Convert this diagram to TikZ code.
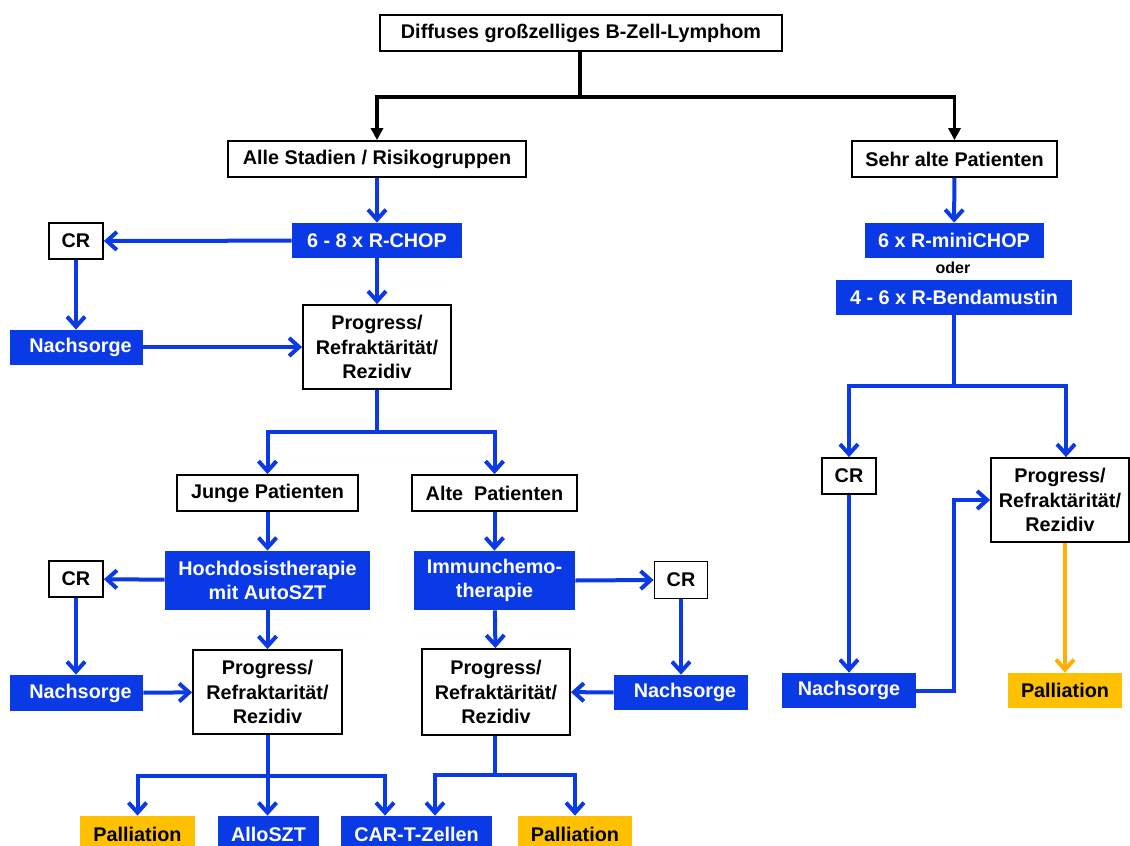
\documentclass[tikz,border=0pt]{standalone}
\usepackage{fontspec}
\setmainfont{Liberation Sans}
\usetikzlibrary{arrows.meta,calc}
\definecolor{dblue}{RGB}{10,58,230}
\definecolor{pgold}{RGB}{255,192,0}
\definecolor{pline}{RGB}{255,176,0}
\begin{document}
\begin{tikzpicture}[x=0.5pt,y=-0.5pt,
  font=\fontsize{9.9}{12.2}\selectfont\bfseries,
  wbox/.style={draw=black,line width=0.9pt,fill=white,text=black,align=center,inner sep=0pt},
  bbox/.style={fill=dblue,text=white,align=center,inner sep=0pt},
  obox/.style={fill=pgold,text=black,align=center,inner sep=0pt},
  barr/.style={draw=dblue,line width=2pt,-{Straight Barb[length=5pt,width=9pt]}},
  bline/.style={draw=dblue,line width=2pt},
  oarr/.style={draw=pline,line width=2pt,-{Straight Barb[length=5pt,width=9pt]}},
  karr/.style={draw=black,line width=1.6pt,-{Triangle[length=6pt,width=6pt]}},
  kline/.style={draw=black,line width=1.6pt}]
\useasboundingbox (0,0) rectangle (1130,846);
\fill[white] (0,0) rectangle (1130,846);

% top level
\node[wbox,minimum width=201pt,minimum height=18pt] (top) at (581,33) {Diffuses großzelliges B-Zell-Lymphom};
\node[wbox,minimum width=149pt,minimum height=18pt] (alle) at (377,159) {Alle Stadien / Risikogruppen};
\node[wbox,minimum width=102.5pt,minimum height=18pt] (sehr) at (954.5,159) {Sehr alte Patienten};

% left branch
\node[bbox,minimum width=85pt,minimum height=17.5pt] (rchop) at (377,240.5) {6 - 8 x R-CHOP};
\node[wbox,minimum width=27pt,minimum height=18pt] (cr1) at (76,241) {CR};
\node[bbox,minimum width=66.5pt,minimum height=17.5pt] (nach1) at (76.5,347.5) {\hspace{4pt}Nachsorge};
\node[wbox,minimum width=74pt,minimum height=42pt] (prog1) at (377,347) {Progress/\\Refraktärität/\\Rezidiv};

\node[wbox,minimum width=90.5pt,minimum height=18pt] (junge) at (267.5,493) {Junge Patienten};
\node[wbox,minimum width=82.5pt,minimum height=18pt] (alte) at (494.5,493) {Alte\ \ Patienten};

\node[bbox,minimum width=102.5pt,minimum height=29.5pt] (hoch) at (267.5,580.5) {Hochdosistherapie\\mit AutoSZT};
\node[bbox,minimum width=80.5pt,minimum height=29.5pt] (immun) at (494.5,580.5) {Immunchemo-\\therapie};

\node[wbox,minimum width=27pt,minimum height=18pt] (cr2) at (76,579) {CR};
\node[bbox,minimum width=66.5pt,minimum height=18pt] (nach2) at (76.5,693) {\hspace{4pt}Nachsorge};
\node[wbox,minimum width=74.5pt,minimum height=42pt] (prog2) at (267.5,692) {Progress/\\Refraktarität/\\Rezidiv};

\node[wbox,minimum width=26.5pt,minimum height=18.5pt] (cr3) at (681,580) {CR};
\node[bbox,minimum width=67pt,minimum height=17.5pt] (nach3) at (681,692.5) {\hspace{4pt}Nachsorge};
\node[wbox,minimum width=74pt,minimum height=43pt] (prog3) at (496,692) {Progress/\\Refraktärität/\\Rezidiv};

\node[obox,minimum width=57.5pt,minimum height=18pt] (pal1) at (137.5,834) {Palliation};
\node[bbox,minimum width=50.5pt,minimum height=18pt] (allo) at (268.5,834) {AlloSZT};
\node[bbox,minimum width=75.5pt,minimum height=18pt] (cart) at (416.5,834) {CAR-T-Zellen};
\node[obox,minimum width=57pt,minimum height=18pt] (pal2) at (575,834) {Palliation};

% right branch
\node[bbox,minimum width=89.5pt,minimum height=17.5pt] (mini) at (954,240.5) {6 x R-miniCHOP};
\node[text=black,inner sep=0pt,font=\fontsize{8}{9}\selectfont\bfseries] (oder) at (953,268) {oder};
\node[bbox,minimum width=118pt,minimum height=17.5pt] (bend) at (954,297.5) {4 - 6 x R-Bendamustin};
\node[wbox,minimum width=27pt,minimum height=18pt] (cr4) at (849,476) {CR};
\node[wbox,minimum width=69pt,minimum height=42pt] (prog4) at (1060,500) {Progress/\\Refraktärität/\\Rezidiv};
\node[bbox,minimum width=67pt,minimum height=17.5pt] (nach4) at (849,690.5) {Nachsorge};
\node[obox,minimum width=57pt,minimum height=17.5pt] (pal3) at (1065,690.5) {Palliation};

% junctions
\coordinate (j0) at (580,97);
\coordinate (j1) at (377,432);
\coordinate (j2) at (267.5,776);
\coordinate (j3) at (495,775);
\coordinate (j4) at (954,386);
\coordinate (c1) at (385,0);
\coordinate (c2) at (435,0);
\coordinate (c3) at (1066,0);
\coordinate (k1) at (954,500);

% black connectors
\draw[kline] (top.south -| j0) -- (j0);
\draw[karr] (j0) -| (alle.north);
\draw[karr] (j0) -| (sehr.north);

% left branch connectors
\draw[barr] (alle) -- (rchop);
\draw[barr] (rchop) -- (cr1);
\draw[barr] (rchop) -- (prog1);
\draw[barr] (cr1) -- (nach1.north -| cr1);
\draw[barr] (nach1.east |- prog1) -- (prog1.west);
\draw[bline] (prog1.south) -- (j1);
\draw[barr] (j1) -| (junge.north);
\draw[barr] (j1) -| (alte.north);
\draw[barr] (junge) -- (hoch);
\draw[barr] (alte) -- (immun);
\draw[barr] (hoch) -- (cr2);
\draw[barr] (cr2) -- (nach2.north -| cr2);
\draw[barr] (nach2) -- (prog2);
\draw[barr] (hoch) -- (prog2);
\draw[barr] (immun.east) -- (cr3.west);
\draw[barr] (cr3) -- (nach3);
\draw[barr] (nach3) -- (prog3);
\draw[barr] (immun) -- (prog3);
\draw[bline] (prog2.south) -- (j2);
\draw[barr] (j2) -| (pal1.north);
\draw[barr] (j2) -- (allo.north -| j2);
\draw[barr] (j2) -| (cart.north -| c1);
\draw[bline] (prog3.south -| j3) -- (j3);
\draw[barr] (j3) -| (cart.north -| c2);
\draw[barr] (j3) -| (pal2.north);

% right branch connectors
\draw[barr] (sehr) -- (mini);
\draw[bline] (bend.south) -- (j4);
\draw[barr] (j4) -| (cr4.north);
\draw[barr] (j4) -| (prog4.north -| c3);
\draw[barr] (cr4) -- (nach4);
\draw[barr] (nach4.east) -| (k1) -- (prog4.west);
\draw[oarr] (prog4.south -| pal3) -- (pal3.north);
\end{tikzpicture}
\end{document}
